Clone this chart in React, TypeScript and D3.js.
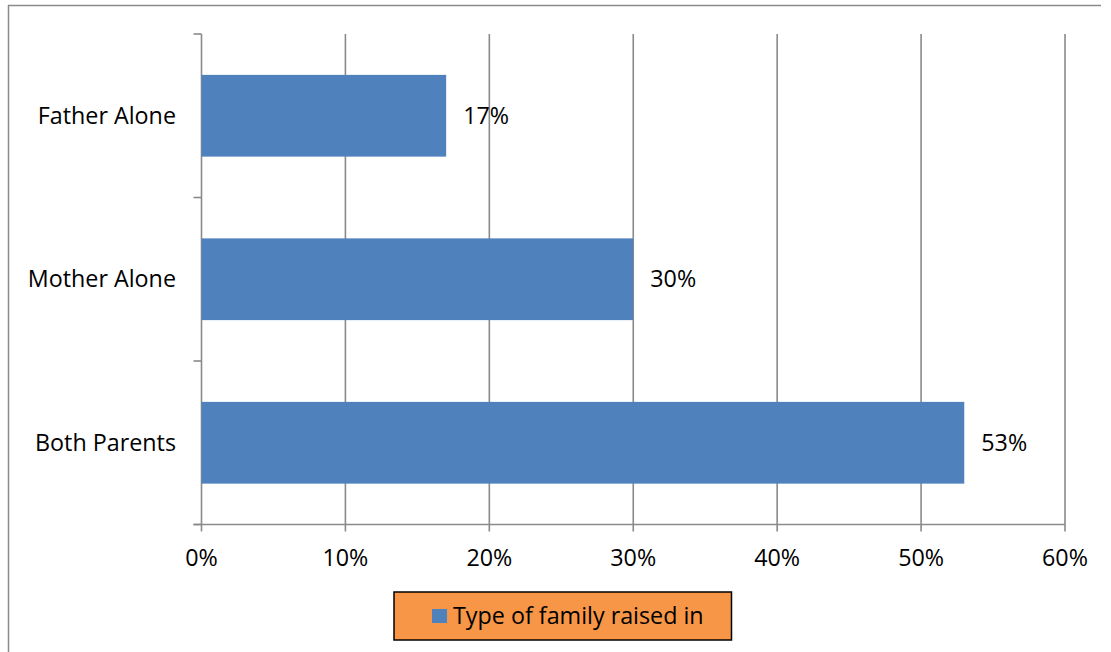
import React from "react";
import * as d3 from "d3";

const categories = ["Father Alone", "Mother Alone", "Both Parents"];
const values = [0.17, 0.30, 0.53];
const xTicks = [0, 0.1, 0.2, 0.3, 0.4, 0.5, 0.6];
const seriesName = "Type of family raised in";

const W = 1111;
const H = 652;
const left = 201.5;
const right = 1065;
const top = 34;
const bottom = 524.5;
const font = "'Open Sans', sans-serif";
const fs = 23.3;

export default function App() {
  const x = d3.scaleLinear().domain([0, 0.6]).range([left, right]);
  const y = d3
    .scaleBand<string>()
    .domain(categories)
    .range([top, bottom])
    .paddingInner(0.5)
    .paddingOuter(0.25);
  const step = y.step();
  const fmt = d3.format(".0%");
  const grid = "#8a8a8a";
  const bounds = categories.map((_, i) => top + i * step).concat([bottom]);

  return (
    <svg
      width={W}
      height={H}
      style={{ position: "fixed", left: 0, top: 0, background: "#fff" }}
    >
      <line x1={8} y1={5.5} x2={1101} y2={5.5} stroke="#8a8a8a" strokeWidth={1.5} />
      <line x1={8.5} y1={5} x2={8.5} y2={H} stroke="#8a8a8a" strokeWidth={1.5} />

      {xTicks.map((t) => (
        <line key={"g" + t} x1={x(t)} x2={x(t)} y1={top} y2={bottom + 7} stroke={grid} strokeWidth={1.6} />
      ))}
      <line x1={left - 8} x2={right} y1={bottom} y2={bottom} stroke={grid} strokeWidth={1.6} />
      {bounds.map((b, i) => (
        <line key={"t" + i} x1={left - 8} x2={left} y1={b} y2={b} stroke={grid} strokeWidth={1.6} />
      ))}

      {categories.map((c, i) => (
        <rect key={c} x={x(0)} y={y(c)!} width={x(values[i]) - x(0)} height={y.bandwidth()} fill="#4F81BD" />
      ))}

      {categories.map((c, i) => (
        <text
          key={"v" + c}
          x={x(values[i]) + 17}
          y={y(c)! + y.bandwidth() / 2}
          dy="0.35em"
          fontFamily={font}
          fontSize={fs}
          fill="#000"
        >
          {fmt(values[i])}
        </text>
      ))}

      {categories.map((c) => (
        <text
          key={"c" + c}
          x={176}
          y={y(c)! + y.bandwidth() / 2}
          dy="0.35em"
          textAnchor="end"
          fontFamily={font}
          fontSize={fs}
          fill="#000"
        >
          {c}
        </text>
      ))}

      {xTicks.map((t) => (
        <text
          key={"x" + t}
          x={x(t)}
          y={558}
          dy="0.35em"
          textAnchor="middle"
          fontFamily={font}
          fontSize={fs}
          fill="#000"
        >
          {fmt(t)}
        </text>
      ))}

      <rect x={394} y={592} width={337.5} height={48} fill="#F79646" stroke="#000" strokeWidth={1.5} />
      <rect x={432} y={609} width={15} height={14} fill="#4F81BD" />
      <text x={453} y={615.5} dy="0.35em" fontFamily={font} fontSize={23.3} fill="#000">
        {seriesName}
      </text>
    </svg>
  );
}
